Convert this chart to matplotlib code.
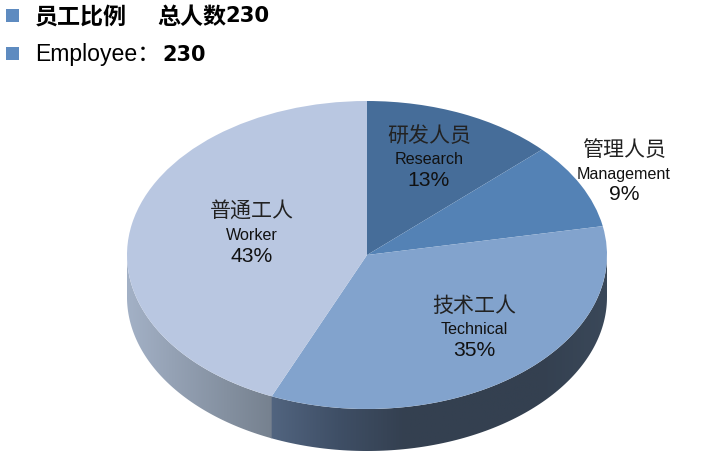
#!/usr/bin/env python3
"""Employee share pie, drawn as a tilted 3D-looking pie."""

import matplotlib

matplotlib.use("Agg")
import matplotlib.pyplot as plt  # noqa: E402
import numpy as np  # noqa: E402
from matplotlib.colors import LinearSegmentedColormap  # noqa: E402
from matplotlib.patches import PathPatch, Rectangle  # noqa: E402
from matplotlib.path import Path as MplPath  # noqa: E402

plt.rcParams["font.family"] = ["Liberation Sans", "Noto Sans CJK SC", "DejaVu Sans"]

WIDTH, HEIGHT = 702, 457
CENTER_X, CENTER_Y = 367, 255
RADIUS_X, RADIUS_Y = 240, 154
DEPTH = 42 / RADIUS_Y

# clockwise from 12 o'clock; slice sizes as measured, labels as printed
names_cn = ["研发人员", "管理人员", "技术工人", "普通工人"]
names_en = ["Research", "Management", "Technical", "Worker"]
shares = [13, 9, 34.5, 43.5]
share_labels = ["13%", "9%", "35%", "43%"]
slice_colors = ["#466D99", "#5482B5", "#82A3CD", "#B9C7E1"]
label_px = [(429, 160), (624, 174), (474, 330), (252, 235)]


def px_x(x):
    return (x - CENTER_X) / RADIUS_X


def px_y(y):
    return (CENTER_Y - y) / RADIUS_Y


def draw_wall(ax, start_deg, end_deg, colors):
    # angles are in the usual counterclockwise sense, both in the lower half
    theta = np.radians(np.linspace(start_deg, end_deg, 120))
    x, y = np.cos(theta), np.sin(theta)
    verts = np.concatenate([np.column_stack([x, y]), np.column_stack([x[::-1], y[::-1] - DEPTH])])
    path = MplPath(np.vstack([verts, verts[:1]]), closed=True)
    patch = PathPatch(path, facecolor="none", edgecolor="none", transform=ax.transData)
    ax.add_patch(patch)
    cmap = LinearSegmentedColormap.from_list("wall", colors)
    image = ax.imshow(
        np.linspace(0, 1, 256).reshape(1, -1),
        cmap=cmap,
        extent=(x.min(), x.max(), -1 - DEPTH, 0.1),
        aspect="auto",
        zorder=1,
    )
    image.set_clip_path(patch)


fig = plt.figure(figsize=(WIDTH / 100, HEIGHT / 100), dpi=100)
ax = fig.add_axes([0, 0, 1, 1])

# wall boundary between the technical and worker slices
boundary_deg = 450 - 360 * sum(shares[:3]) / sum(shares)
# small overlap so no white seam shows between the two wall pieces
draw_wall(
    ax,
    boundary_deg - 0.4,
    360,
    ["#526580", "#3F4F66", "#344050", "#344050", "#344050", "#3A4859"],
)
draw_wall(ax, 180, boundary_deg, ["#A3B1C6", "#76818F"])

ax.pie(
    shares,
    colors=slice_colors,
    startangle=90,
    counterclock=False,
    radius=1,
    wedgeprops={"linewidth": 0, "zorder": 2},
)
ax.set_aspect("auto")
ax.set_xlim(px_x(0), px_x(WIDTH))
ax.set_ylim(px_y(HEIGHT), px_y(0))
ax.axis("off")

for cn, en, share, (x, y) in zip(names_cn, names_en, share_labels, label_px):
    ax.text(px_x(x), px_y(y - 24), cn, fontsize=15.1, ha="center", va="center", color="#222222", zorder=3)
    ax.text(px_x(x), px_y(y), en, fontsize=11.6, ha="center", va="center", color="#111111", zorder=3)
    ax.text(px_x(x), px_y(y + 21), share, fontsize=15.2, ha="center", va="center", color="#111111", zorder=3)

# header bullets
for top in (9, 47):
    fig.add_artist(
        Rectangle((6 / WIDTH, 1 - (top + 13) / HEIGHT), 13 / WIDTH, 13 / HEIGHT,
                  transform=fig.transFigure, facecolor="#5E8BC0", edgecolor="none")
    )

fig.text(35 / WIDTH, 1 - 17 / HEIGHT, "员工比例", fontsize=16.6, fontweight="bold", va="center", color="black")
fig.text(157 / WIDTH, 1 - 17 / HEIGHT, "总人数", fontsize=16.6, fontweight="bold", va="center", color="black")
fig.text(225 / WIDTH, 1 - 16 / HEIGHT, "230", fontsize=15.2, fontweight="bold", family="DejaVu Sans", va="center", color="black")
fig.text(35 / WIDTH, 1 - 55 / HEIGHT, "Employee：", fontsize=16.6, va="center", color="black")
fig.text(162 / WIDTH, 1 - 55 / HEIGHT, "230", fontsize=15, fontweight="bold", family="DejaVu Sans", va="center", color="black")

fig.savefig("out.png", dpi=100, facecolor="white")
